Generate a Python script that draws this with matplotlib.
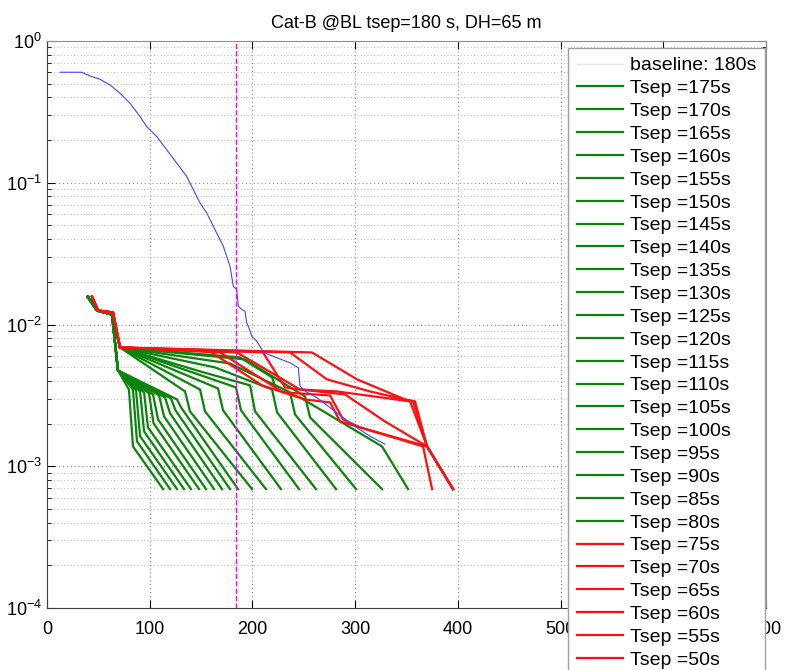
import numpy as np
import matplotlib.pyplot as plt
from matplotlib.lines import Line2D

plt.rcParams['font.family'] = ['Liberation Sans', 'DejaVu Sans']
plt.rcParams['mathtext.fontset'] = 'custom'
plt.rcParams['mathtext.rm'] = 'Liberation Sans'
plt.rcParams['mathtext.it'] = 'Liberation Sans:italic'
plt.rcParams['mathtext.bf'] = 'Liberation Sans:bold'

title = "Cat-B @BL tsep=180 s, DH=65 m"
t_marker = 184

# baseline (blue) curve
base_x = [12.7, 33.8, 41.9, 51.6, 61.3, 71.1, 80.8, 90.6, 97.1, 106.8, 116.5,
          126.3, 136.0, 142.5, 149.0, 155.5, 165.2, 171.7, 178.2, 181.4, 184.7,
          186.3, 189.6, 192.8, 194.4, 196.0, 199.3, 204.2, 209.1, 210.6, 223.6,
          236.6, 244.7, 246.3, 251.2, 262.6, 275.6, 288.5, 301.6, 314.5, 329.1]
base_y = [0.602, 0.602, 0.567, 0.537, 0.490, 0.428, 0.364, 0.293, 0.249, 0.212,
          0.171, 0.1376, 0.1108, 0.0893, 0.0719, 0.0612, 0.0442, 0.0356, 0.0257,
          0.0186, 0.01764, 0.01345, 0.01276, 0.01241, 0.01028, 0.00973, 0.00828,
          0.00763, 0.00667, 0.00635, 0.00583, 0.00537, 0.00495, 0.00368, 0.00339,
          0.00305, 0.00259, 0.00220, 0.00187, 0.00163, 0.00143]

# common start of the Tsep curves
green_head_x = [39.7, 48.7, 63.3]
green_head_y = [0.01574, 0.01256, 0.01176]
red_head_x = [43.8, 49.7, 64.3, 71.1]
red_head_y = [0.01574, 0.01256, 0.01216, 0.00689]

tsep_green = [175, 170, 165, 160, 155, 150, 145, 140, 135, 130,
              125, 120, 115, 110, 105, 100, 95, 90, 85, 80]
green_x = [
    [69.1, 79.8, 83.7, 113.0],
    [69.1, 83.7, 87.6, 119.8],
    [69.1, 86.7, 90.6, 126.6],
    [69.1, 90.6, 94.5, 133.4],
    [69.1, 94.5, 98.3, 140.2],
    [69.1, 99.3, 103.7, 148.0],
    [69.1, 103.2, 108.1, 154.8],
    [69.1, 109.1, 113.9, 162.6],
    [69.1, 114.9, 119.8, 170.4],
    [69.1, 120.7, 125.1, 178.2],
    [69.1, 126.6, 130.5, 186.0],
    [71.1, 134.4, 139.2, 199.6],
    [71.1, 149.0, 153.8, 213.2],
    [71.1, 166.5, 171.4, 227.8],
    [71.1, 184.0, 188.9, 245.4],
    [71.1, 149.0, 197.7, 202.5, 261.9],
    [71.1, 163.6, 219.1, 224.0, 281.4],
    [71.1, 178.2, 236.6, 241.5, 300.9],
    [71.1, 192.8, 251.2, 256.1, 326.2],
    [71.1, 187.9, 219.1, 223.0, 246.3, 326.2, 351.5],
]
green_y = [
    [0.00474, 0.00348, 0.00138, 0.00069],
    [0.00474, 0.00348, 0.00150, 0.00069],
    [0.00474, 0.00343, 0.00163, 0.00069],
    [0.00474, 0.00337, 0.00176, 0.00069],
    [0.00474, 0.00332, 0.00188, 0.00069],
    [0.00474, 0.00327, 0.00201, 0.00069],
    [0.00474, 0.00321, 0.00214, 0.00069],
    [0.00474, 0.00316, 0.00225, 0.00069],
    [0.00474, 0.00306, 0.00236, 0.00069],
    [0.00474, 0.00301, 0.00248, 0.00069],
    [0.00474, 0.00296, 0.00260, 0.00069],
    [0.00689, 0.00337, 0.00244, 0.00069],
    [0.00689, 0.00348, 0.00244, 0.00069],
    [0.00689, 0.00354, 0.00248, 0.00069],
    [0.00689, 0.00360, 0.00248, 0.00069],
    [0.00689, 0.00467, 0.00372, 0.00244, 0.00069],
    [0.00689, 0.00498, 0.00348, 0.00240, 0.00069],
    [0.00689, 0.00531, 0.00332, 0.00232, 0.00069],
    [0.00689, 0.00567, 0.00311, 0.00221, 0.00069],
    [0.00689, 0.00586, 0.00424, 0.00348, 0.00306, 0.00138, 0.00069],
]

tsep_red = [75, 70, 65, 60, 55, 50]
red_x = [
    [158.7, 209.3, 251.2, 275.6, 285.3, 366.1, 374.9],
    [168.5, 229.8, 275.6, 288.2, 304.8, 370.0, 395.3],
    [185.0, 246.3, 282.4, 353.5, 370.0, 395.3],
    [210.3, 231.7, 246.3, 290.2, 329.1, 370.0, 395.3],
    [236.6, 272.6, 314.5, 356.4, 370.0, 395.3],
    [258.0, 301.9, 348.6, 358.3, 370.0, 395.3],
]
red_y = [
    [0.00646, 0.00372, 0.00296, 0.00282, 0.00207, 0.00138, 0.00069],
    [0.00635, 0.00332, 0.00316, 0.00214, 0.00188, 0.00138, 0.00069],
    [0.00635, 0.00348, 0.00337, 0.00287, 0.00138, 0.00069],
    [0.00635, 0.00360, 0.00348, 0.00321, 0.00207, 0.00138, 0.00069],
    [0.00635, 0.00410, 0.00337, 0.00287, 0.00138, 0.00069],
    [0.00635, 0.00410, 0.00296, 0.00287, 0.00138, 0.00069],
]

fig = plt.figure(figsize=(7.86, 6.70), dpi=100)
ax = fig.add_axes([47 / 786, 62 / 670, 719 / 786, 567 / 670])

handles = [Line2D([], [], color='#e4e4f4', lw=1.0)]
labels = ['baseline: 180s']

ax.plot(base_x, base_y, color='#4444ff', lw=0.8, zorder=4)

for ts, tx, ty in zip(tsep_green, green_x, green_y):
    ln, = ax.plot(green_head_x + tx, green_head_y + ty, color='#0a840a', lw=1.6, zorder=2)
    handles.append(ln)
    labels.append(f'Tsep ={ts}s')

for ts, tx, ty in zip(tsep_red, red_x, red_y):
    ln, = ax.plot(red_head_x + tx, red_head_y + ty, color='#ff1010', lw=1.6, zorder=3)
    handles.append(ln)
    labels.append(f'Tsep ={ts}s')

ax.axvline(t_marker, color='#ff00ff', ls='--', lw=1.0, zorder=5)

ax.set_yscale('log')
ax.set_xlim(0, 700)
ax.set_ylim(1e-4, 1)
ax.set_xticks(np.arange(0, 701, 100))
ax.grid(True, which='major', color='#808080', ls=(0, (1, 3)), lw=0.7)
ax.grid(True, which='minor', axis='y', color='#a0a0a0', ls=(0, (1, 3)), lw=0.6)
ax.tick_params(which='both', direction='in', top=True, right=True, labelsize=13)
ax.tick_params(which='major', length=6)
ax.tick_params(which='minor', length=3)
ax.tick_params(axis='x', pad=9)
for s in ax.spines.values():
    s.set_color('#404040')
ax.spines['top'].set_color('#909090')
ax.spines['right'].set_color('#909090')
ax.set_title(title, fontsize=13, pad=9)

# legend sits over the right end of the axes and runs off the bottom, as in the original
leg = fig.legend(handles, labels, loc='upper left',
                 bbox_to_anchor=(568 / 786, 1 - 48 / 670),
                 fontsize=14, frameon=True, fancybox=False, framealpha=1,
                 edgecolor='#a0a0a0', labelspacing=0.27, handlelength=2.4,
                 handletextpad=0.35, borderpad=0.45, borderaxespad=0)

fig.savefig('out.png', dpi=100)
